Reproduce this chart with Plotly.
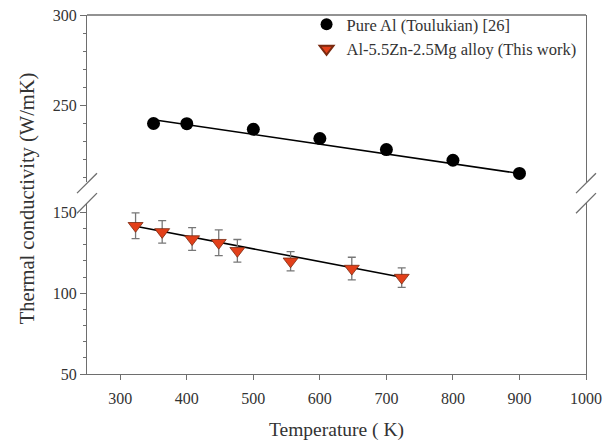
import plotly.graph_objects as go

# ---- data ----
al_T = [350, 400, 500, 600, 700, 800, 900]
al_k = [240.1, 240.0, 236.9, 231.8, 225.7, 219.8, 212.5]
al_fit_T = [350, 900]
al_fit_k = [242.2, 212.5]

alloy_T = [323, 363, 408, 448, 476, 556, 648, 723]
alloy_k = [141.8, 138.0, 133.6, 131.3, 126.3, 119.8, 115.3, 109.7]
alloy_err = [8, 7, 7, 8, 7, 6, 7, 6]
alloy_fit_T = [323, 723]
alloy_fit_k = [141.5, 109.9]

x_ticks = [300, 400, 500, 600, 700, 800, 900, 1000]
y_low_ticks = [50, 100, 150]
y_up_ticks = [250, 300]

FONT = "Liberation Serif"
AXC = "#6e6e6e"
RED = "#e2401a"

fig = go.Figure()

# upper segment (pure Al)
fig.add_trace(go.Scatter(x=al_fit_T, y=al_fit_k, mode="lines",
                         line=dict(color="black", width=1.6),
                         xaxis="x2", yaxis="y2", showlegend=False, hoverinfo="skip"))
fig.add_trace(go.Scatter(x=al_T, y=al_k, mode="markers", name="Pure Al (Toulukian) [26]",
                         marker=dict(symbol="circle", size=13, color="black"),
                         xaxis="x2", yaxis="y2"))

# lower segment (alloy)
fig.add_trace(go.Scatter(x=alloy_fit_T, y=alloy_fit_k, mode="lines",
                         line=dict(color="black", width=1.6),
                         xaxis="x", yaxis="y", showlegend=False, hoverinfo="skip"))
fig.add_trace(go.Scatter(x=alloy_T, y=alloy_k, mode="markers",
                         name="Al-5.5Zn-2.5Mg alloy (This work)",
                         marker=dict(symbol="triangle-down", size=13, color=RED,
                                     line=dict(color="#7a2a10", width=0.8)),
                         error_y=dict(type="data", array=alloy_err, color="#777777",
                                      thickness=1.3, width=4),
                         xaxis="x", yaxis="y"))

axis_common = dict(showline=True, linecolor=AXC, linewidth=1.3, showgrid=False,
                   zeroline=False, tickcolor=AXC,
                   tickfont=dict(family=FONT, size=16, color="#333333"))

low_top = 0.4759
up_bot = 0.5344

fig.update_layout(
    width=616, height=444,
    margin=dict(l=87, r=30, t=15, b=70, autoexpand=False),
    paper_bgcolor="white", plot_bgcolor="white",
    font=dict(family=FONT, color="#333333"),
    xaxis=dict(range=[250, 1000], tickvals=x_ticks, ticks="outside", ticklen=5,
               ticklabelstandoff=5, anchor="y", domain=[0, 1], **axis_common),
    xaxis2=dict(range=[250, 1000], matches="x", anchor="y2", side="top",
                showticklabels=False, ticks="", showline=False,
                showgrid=False, zeroline=False),
    yaxis=dict(range=[50, 155.8], domain=[0, low_top], tickvals=y_low_ticks,
               ticks="outside", ticklen=6, mirror=True,
               minor=dict(dtick=10, tick0=50, ticks="outside", ticklen=3, tickcolor=AXC),
               **axis_common),
    yaxis2=dict(range=[207.7, 300], domain=[up_bot, 1], tickvals=y_up_ticks,
                ticks="outside", ticklen=6, mirror=True, anchor="x2",
                minor=dict(dtick=10, tick0=200, ticks="outside", ticklen=3, tickcolor=AXC),
                **axis_common),
    legend=dict(x=0.44, y=1.022, xanchor="left", yanchor="top",
                bgcolor="rgba(0,0,0,0)", font=dict(family=FONT, size=16.5, color="#333333"),
                tracegroupgap=0, itemsizing="constant"),
    showlegend=True,
)

# top frame line
fig.add_shape(type="line", xref="paper", yref="paper", x0=0, x1=1, y0=1, y1=1,
              line=dict(color=AXC, width=1.3))

# axis titles
fig.add_annotation(text="Temperature ( K)", xref="paper", yref="paper",
                   x=0.5, y=-0.155, xanchor="center", yanchor="middle", showarrow=False,
                   font=dict(family=FONT, size=19.5, color="#333333"))
fig.add_annotation(text="Thermal conductivity (W/mK)", xref="paper", yref="paper",
                   x=-0.12, y=0.49, xanchor="center", yanchor="middle", showarrow=False,
                   textangle=-90, font=dict(family=FONT, size=20.5, color="#333333"))

# axis-break slashes
for xc in (0.0, 1.0):
    for (y0, y1) in ((0.5038, 0.5594), (0.448, 0.5038)):
        fig.add_shape(type="line", xref="paper", yref="paper",
                      x0=xc - 0.02, x1=xc + 0.02, y0=y0, y1=y1,
                      line=dict(color=AXC, width=1.3))

fig.write_html("out.html", config={"displayModeBar": False},
               post_script="document.body.style.margin='0';document.body.style.padding='0';")
